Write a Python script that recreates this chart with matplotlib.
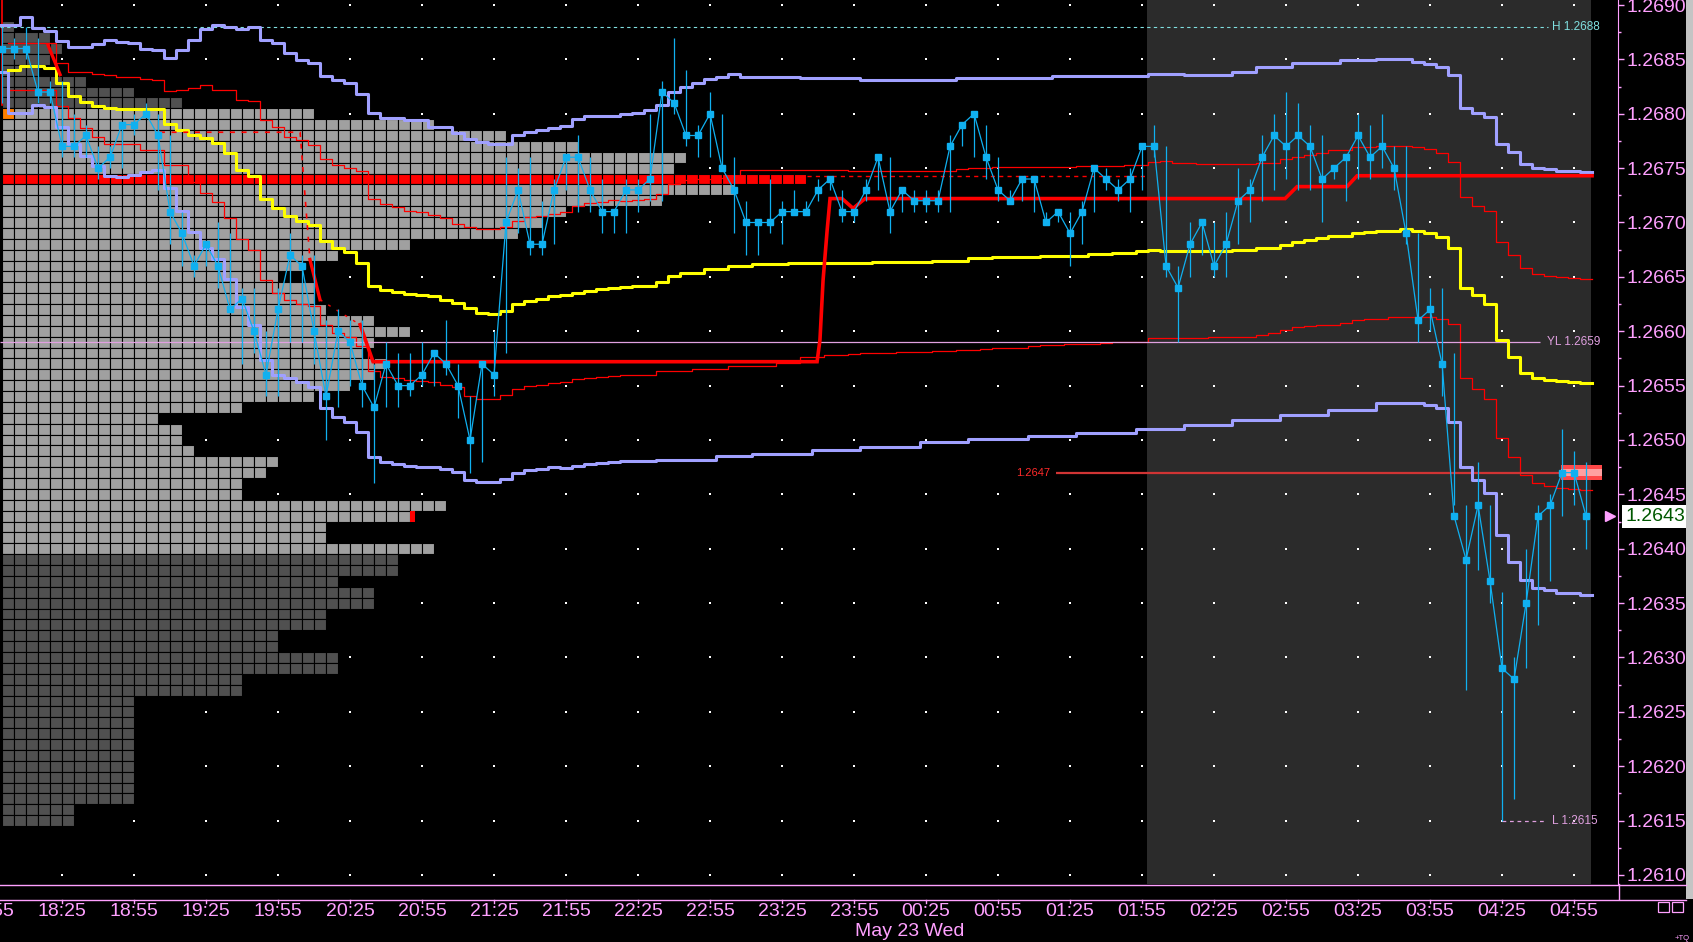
import numpy as np
import matplotlib
matplotlib.use("Agg")
import matplotlib.pyplot as plt
from matplotlib.patches import Rectangle
from matplotlib.lines import Line2D
from matplotlib.transforms import blended_transform_factory as blend

plt.rcParams['font.family'] = ['Liberation Sans', 'DejaVu Sans']

# 5 minute bars, 18:00 (May 22) .. 05:00 (May 23)
closes = [1.2686,1.2686,1.2686,1.2682,1.2682,1.2677,1.2677,1.2678,1.2675,1.2676,
          1.2679,1.2679,1.2680,1.2678,1.2671,1.2669,1.2666,1.2668,1.2666,1.2662,
          1.2663,1.2660,1.2656,1.2662,1.2667,1.2666,1.2660,1.2654,1.2660,1.2659,
          1.2655,1.2653,1.2657,1.2655,1.2655,1.2656,1.2658,1.2657,1.2655,1.2650,
          1.2657,1.2656,1.2670,1.2673,1.2668,1.2668,1.2673,1.2676,1.2676,1.2673,
          1.2671,1.2671,1.2673,1.2673,1.2674,1.2682,1.2681,1.2678,1.2678,1.2680,
          1.2675,1.2673,1.2670,1.2670,1.2670,1.2671,1.2671,1.2671,1.2673,1.2674,
          1.2671,1.2671,1.2673,1.2676,1.2671,1.2673,1.2672,1.2672,1.2672,1.2677,
          1.2679,1.2680,1.2676,1.2673,1.2672,1.2674,1.2674,1.2670,1.2671,1.2669,
          1.2671,1.2675,1.2674,1.2673,1.2674,1.2677,1.2677,1.2666,1.2664,1.2668,
          1.2670,1.2666,1.2668,1.2672,1.2673,1.2676,1.2678,1.2677,1.2678,1.2677,
          1.2674,1.2675,1.2676,1.2678,1.2676,1.2677,1.2675,1.2669,1.2661,1.2662,
          1.2657,1.2643,1.2639,1.2644,1.2637,1.2629,1.2628,1.2635,1.2643,1.2644,
          1.2647,1.2647,1.2643]
highs = [1.2688,1.2687,1.2688,1.2687,1.2683,1.2683,1.2680,1.2679,1.2677,1.2677,
         1.2679,1.2680,1.2681,1.2680,1.2678,1.2671,1.2667,1.2668,1.2670,1.2669,
         1.2664,1.2664,1.2660,1.2664,1.2669,1.2667,1.2667,1.2661,1.2662,1.2661,
         1.2661,1.2657,1.2659,1.2658,1.2658,1.2659,1.2658,1.2661,1.2657,1.2654,
         1.2657,1.2660,1.2676,1.2675,1.2676,1.2672,1.2674,1.2676,1.2678,1.2676,
         1.2674,1.2671,1.2674,1.2674,1.2680,1.2683,1.2687,1.2684,1.2679,1.2682,
         1.2680,1.2676,1.2672,1.2670,1.2674,1.2672,1.2673,1.2672,1.2674,1.2674,
         1.2673,1.2671,1.2674,1.2676,1.2676,1.2673,1.2673,1.2673,1.2673,1.2678,
         1.2679,1.2680,1.2679,1.2676,1.2673,1.2674,1.2674,1.2671,1.2671,1.2671,
         1.2672,1.2675,1.2675,1.2674,1.2675,1.2677,1.2679,1.2677,1.2666,1.2670,
         1.2670,1.2670,1.2671,1.2675,1.2674,1.2678,1.2680,1.2682,1.2681,1.2679,
         1.2678,1.2675,1.2676,1.2680,1.2679,1.2680,1.2677,1.2677,1.2669,1.2664,
         1.2664,1.2658,1.2644,1.2648,1.2644,1.2636,1.2630,1.2640,1.2644,1.2645,
         1.2651,1.2649,1.2648]
lows = [1.2681,1.2685,1.2685,1.2681,1.2681,1.2676,1.2676,1.2676,1.2674,1.2675,
        1.2675,1.2678,1.2680,1.2673,1.2668,1.2666,1.2665,1.2666,1.2664,1.2662,
        1.2657,1.2658,1.2654,1.2654,1.2659,1.2659,1.2657,1.2650,1.2653,1.2655,
        1.2653,1.2646,1.2653,1.2653,1.2654,1.2655,1.2655,1.2656,1.2652,1.2647,
        1.2648,1.2654,1.2658,1.2669,1.2667,1.2667,1.2668,1.2673,1.2671,1.2671,
        1.2669,1.2669,1.2669,1.2671,1.2672,1.2672,1.2680,1.2677,1.2676,1.2676,
        1.2675,1.2669,1.2667,1.2667,1.2669,1.2668,1.2671,1.2671,1.2672,1.2673,
        1.2670,1.2670,1.2672,1.2673,1.2669,1.2671,1.2671,1.2671,1.2671,1.2671,
        1.2677,1.2676,1.2674,1.2672,1.2672,1.2672,1.2671,1.2670,1.2670,1.2666,
        1.2668,1.2671,1.2673,1.2672,1.2671,1.2673,1.2676,1.2665,1.2659,1.2665,
        1.2667,1.2665,1.2665,1.2668,1.2670,1.2672,1.2673,1.2674,1.2673,1.2673,
        1.2670,1.2674,1.2672,1.2674,1.2674,1.2675,1.2673,1.2668,1.2659,1.2660,
        1.2654,1.2644,1.2627,1.2638,1.2635,1.2615,1.2617,1.2629,1.2633,1.2637,
        1.2643,1.2644,1.2640]

# step indicators: bar index where a new value starts, and the value
upper_bar = [0,2,3,4,5,6,8,9,10,11,12,13,14,15,16,17,18,19,20,21,22,23,24,25,26,27,28,29,30,31,
             32,34,36,38,39,40,41,43,44,45,46,47,48,49,52,53,54,55,56,57,58,59,60,61,62,67,72,80,88,96,
             99,103,105,108,112,115,118,119,120,121,122,123,124,125,126,127,128,129,130,132]
upper_band = [1.26882,1.26889,1.26879,1.26876,1.26867,1.26861,1.26864,1.26868,1.26866,1.26865,
              1.26860,1.26859,1.26851,1.26859,1.26868,1.26878,1.26882,1.26880,1.26878,1.26880,
              1.26868,1.26865,1.26856,1.26849,1.26847,1.26835,1.26831,1.26828,1.26818,1.26801,
              1.26796,1.26794,1.26788,1.26782,1.26777,1.26774,1.26772,1.26780,1.26783,1.26785,
              1.26787,1.26789,1.26795,1.26798,1.26800,1.26801,1.26803,1.26808,1.26820,1.26825,
              1.26828,1.26832,1.26834,1.26837,1.26834,1.26833,1.26831,1.26833,1.26835,1.26837,
              1.26836,1.26838,1.26843,1.26847,1.26849,1.26850,1.26848,1.26846,1.26843,1.26836,
              1.26805,1.26801,1.26797,1.26772,1.26765,1.26754,1.26750,1.26749,1.26747,1.26746]
lower_bar = [0,1,3,4,5,6,7,8,9,10,11,12,13,14,15,16,17,18,19,20,21,22,23,24,25,26,27,28,29,30,
             31,32,33,34,35,37,38,39,40,42,43,44,45,46,47,48,49,50,51,52,55,60,63,68,72,77,81,86,90,95,
             99,103,107,111,115,119,120,121,122,123,124,125,126,127,128,129,130,132]
lower_band = [1.26838,1.26801,1.26808,1.26806,1.26788,1.26772,1.26761,1.26752,1.26743,1.26742,
              1.26744,1.26746,1.26748,1.26732,1.26711,1.26691,1.26677,1.26666,1.26648,1.26622,
              1.26606,1.26574,1.26560,1.26557,1.26553,1.26549,1.26529,1.26521,1.26517,1.26507,
              1.26484,1.26480,1.26478,1.26476,1.26475,1.26473,1.26471,1.26463,1.26461,1.26464,
              1.26470,1.26472,1.26473,1.26475,1.26474,1.26476,1.26478,1.26479,1.26480,1.26481,
              1.26482,1.26485,1.26487,1.26491,1.26494,1.26498,1.26501,1.26504,1.26506,1.26510,
              1.26514,1.26518,1.26523,1.26528,1.26534,1.26532,1.26529,1.26517,1.26475,1.26463,
              1.26451,1.26413,1.26388,1.26371,1.26364,1.26362,1.26359,1.26357]
vwap_bar = [1,2,4,5,6,7,8,9,10,14,15,16,17,18,19,20,21,22,23,24,25,26,27,28,29,30,31,32,33,34,
            35,36,37,38,39,40,41,42,43,44,45,46,47,48,49,50,51,52,53,55,56,57,59,61,63,66,70,73,78,81,
            83,87,91,93,95,96,97,103,105,107,108,109,110,111,113,114,115,117,118,119,
            120,121,122,123,124,125,126,127,128,129,130,131,132]
vwap = [1.26840,1.26844,1.26842,1.26828,1.26816,1.26811,1.26807,1.26805,1.26804,1.26791,
        1.26785,1.26780,1.26778,1.26773,1.26764,1.26748,1.26743,1.26722,1.26713,1.26706,
        1.26701,1.26698,1.26683,1.26677,1.26673,1.26663,1.26642,1.26638,1.26636,1.26634,
        1.26633,1.26632,1.26629,1.26626,1.26621,1.26617,1.26616,1.26619,1.26625,1.26628,
        1.26630,1.26632,1.26633,1.26635,1.26637,1.26639,1.26640,1.26641,1.26642,1.26645,
        1.26651,1.26654,1.26657,1.26660,1.26662,1.26663,1.26663,1.26664,1.26665,1.26667,
        1.26668,1.26669,1.26671,1.26672,1.26674,1.26675,1.26674,1.26675,1.26677,1.26679,
        1.26682,1.26684,1.26686,1.26688,1.26690,1.26691,1.26692,1.26694,1.26692,1.26690,
        1.26687,1.26677,1.26640,1.26633,1.26625,1.26592,1.26576,1.26562,1.26557,1.26555,
        1.26554,1.26553,1.26552]
sd_up_bar = [1,5,6,8,9,10,12,13,14,15,16,17,18,20,21,22,23,24,25,26,27,28,29,30,31,32,33,34,35,36,
             37,38,39,40,42,43,44,45,46,47,48,49,50,51,52,53,54,55,56,57,58,60,61,62,71,80,81,83,90,94,
             96,97,98,100,105,107,108,109,110,111,113,115,118,119,120,121,122,123,124,125,
             126,127,128,129,130,131,132]
sd_up = [1.26865,1.26847,1.26838,1.26837,1.26836,1.26834,1.26832,1.26831,1.26821,1.26822,
         1.26824,1.26826,1.26822,1.26813,1.26812,1.26794,1.26788,1.26779,1.26776,1.26771,
         1.26758,1.26753,1.26750,1.26747,1.26722,1.26717,1.26714,1.26711,1.26710,1.26707,
         1.26704,1.26699,1.26696,1.26694,1.26696,1.26701,1.26705,1.26706,1.26708,1.26710,
         1.26715,1.26718,1.26719,1.26721,1.26720,1.26721,1.26722,1.26726,1.26735,1.26739,
         1.26740,1.26741,1.26743,1.26748,1.26747,1.26749,1.26750,1.26751,1.26752,1.26753,
         1.26756,1.26757,1.26755,1.26754,1.26755,1.26758,1.26760,1.26762,1.26764,1.26767,
         1.26769,1.26770,1.26769,1.26768,1.26764,1.26756,1.26723,1.26715,1.26711,1.26682,
         1.26670,1.26658,1.26653,1.26651,1.26650,1.26649,1.26648]
sd_dn_bar = [1,5,6,7,8,9,12,14,16,17,18,19,20,21,22,23,24,25,26,27,28,29,30,31,32,33,34,35,36,37,
             38,39,40,42,43,44,45,46,47,48,49,50,51,52,55,58,61,65,67,69,71,72,75,78,80,82,83,86,87,89,
             90,92,93,96,101,102,105,106,107,108,109,110,112,113,114,116,120,121,122,123,
             124,125,126,127,128,129,130,131,132]
sd_dn = [1.26822,1.26807,1.26796,1.26787,1.26779,1.26772,1.26767,1.26753,1.26737,1.26727,
         1.26719,1.26704,1.26685,1.26675,1.26647,1.26635,1.26629,1.26625,1.26623,1.26606,
         1.26598,1.26595,1.26586,1.26563,1.26558,1.26557,1.26555,1.26554,1.26553,1.26551,
         1.26549,1.26540,1.26538,1.26541,1.26547,1.26550,1.26551,1.26552,1.26553,1.26556,
         1.26557,1.26558,1.26559,1.26560,1.26563,1.26565,1.26568,1.26571,1.26576,1.26578,
         1.26579,1.26580,1.26581,1.26582,1.26583,1.26584,1.26585,1.26586,1.26587,1.26588,
         1.26588,1.26589,1.26590,1.26594,1.26595,1.26595,1.26597,1.26598,1.26601,1.26604,
         1.26605,1.26606,1.26608,1.26610,1.26611,1.26613,1.26611,1.26607,1.26557,1.26547,
         1.26538,1.26502,1.26484,1.26468,1.26460,1.26458,1.26456,1.26455,1.26454]

# developing POC (minutes since 18:00, price)
poc_t = [149.2,154.6,339.6,340.8,342.1,343.8,345.0,350.0,354.6,359.6,534.6,539.6,560.4,564.6,662.5]
poc_p = [1.26606,1.26572,1.26572,1.26592,1.26647,1.26693,1.26722,1.26722,1.26713,
         1.26722,1.26722,1.26733,1.26733,1.26743,1.26743]
poc_early_t = [19.2, 24.2]
poc_early_p = [1.26863, 1.26836]
poc_drop_t = [128.3, 132.5]
poc_drop_p = [1.26666, 1.26629]
poc_dash_t = [65.8, 124.2, 128.3]
poc_dash_p = [1.26783, 1.26783, 1.26666]
poc_gap_t = [132.5, 149.2]
poc_gap_p = [1.26629, 1.26606]
poc_prev_t = [335.4, 477.1]
poc_prev_p = [1.26743, 1.26743]

# market profile, 1 pip rows from 1.2688 down, cells of 5 minutes
profile_top = 1.2688
profile_counts = [1,4,5,4,3,7,11,15,26,36,42,48,57,56,67,61,55,47,45,43,34,28,25,23,26,26,27,31,
                  34,31,30,32,31,29,26,20,13,15,15,16,23,22,20,20,37,34,27,27,36,33,33,28,31,31,
                  27,27,23,23,28,28,20,20,11,11,11,11,11,11,11,11,11,11,6,6]
poc_level = 1.2674
va_high, va_low = 1.2680, 1.2640

session_high, session_low, y_low, level_1 = 1.2688, 1.2615, 1.2659, 1.2647
last_price = 1.2643

tick_minutes = [-5, 25, 55, 85, 115, 145, 175, 205, 235, 265, 295, 325, 355, 385, 415, 445,
                475, 505, 535, 565, 595, 625, 655]
tick_labels = ['17:55', '18:25', '18:55', '19:25', '19:55', '20:25', '20:55', '21:25', '21:55',
               '22:25', '22:55', '23:25', '23:55', '00:25', '00:55', '01:25', '01:55', '02:25',
               '02:55', '03:25', '03:55', '04:25', '04:55']

PINK = '#ffa0ff'
BLUE = '#10b0f0'
RED = '#ff0000'
LAV = '#a0a0ff'
YEL = '#ffff00'
FS = 14

W, H = 1693, 942
fig = plt.figure(figsize=(W / 100, H / 100), dpi=100, facecolor='black')
ax = fig.add_axes([0, 58 / H, 1618 / W, 884 / H])
ax.set_facecolor('black')
ax.set_xlim(-0.83, 673.3)
ax.set_ylim(1.260917, 1.269046)

n_bars = len(closes)
t = 5 * np.arange(n_bars)

# overnight session shading
ax.axvspan(477.1, 662.1, color='#2b2b2b', lw=0, zorder=0)

# dotted grid
gy = np.arange(1.2610, 1.26901, 0.0005)
GX, GY = np.meshgrid(tick_minutes, gy)
ax.scatter(GX.ravel(), GY.ravel(), s=0.9, c='white', marker='s', linewidths=0, zorder=1)

# market profile
levels = np.round(profile_top - 0.0001 * np.arange(len(profile_counts)), 4)
for lvl, n in zip(levels, profile_counts):
    if abs(lvl - poc_level) < 1e-6:
        fc = RED
    elif va_low - 1e-6 <= lvl <= va_high + 1e-6:
        fc = '#a0a0a0'
    else:
        fc = '#505050'
    ax.broken_barh([(5 * k, 5) for k in range(n)], (lvl - 0.00005, 0.0001),
                   facecolors=fc, edgecolors='black', linewidth=0.8, zorder=2)
ax.add_patch(Rectangle((0, 1.2680 - 0.00005), 5, 0.0001, fc='#ff8000', ec='black', lw=0.8, zorder=2))
n_last = profile_counts[int(round((profile_top - last_price) / 0.0001))]
ax.add_patch(Rectangle((5 * n_last, last_price - 0.00005), 2.2, 0.0001, fc=RED, ec='none', zorder=2))


def steps(bars, vals, **kw):
    xs = [5 * b - 2.5 for b in bars] + [5 * (n_bars - 1) + 2.5]
    ys = list(vals) + [vals[-1]]
    ax.step(xs, ys, where='post', **kw)


steps(sd_up_bar, sd_up, color=RED, lw=0.9, zorder=3)
steps(sd_dn_bar, sd_dn, color=RED, lw=0.9, zorder=3)
steps(upper_bar, upper_band, color=LAV, lw=2.2, zorder=4)
steps(lower_bar, lower_band, color=LAV, lw=2.2, zorder=4)
steps(vwap_bar, vwap, color=YEL, lw=2.2, zorder=4)

ax.plot([0, 0], [1.26905, 1.26808], color=RED, lw=1.2, zorder=3)
ax.plot(poc_early_t, poc_early_p, color=RED, lw=2.4, zorder=5)
ax.plot(poc_dash_t, poc_dash_p, color=RED, lw=1.2, ls=(0, (3, 4)), zorder=5)
ax.plot(poc_drop_t, poc_drop_p, color=RED, lw=2.4, zorder=5)
ax.plot(poc_gap_t, poc_gap_p, color=RED, lw=1.0, ls=(0, (2, 5)), zorder=5)
ax.plot(poc_prev_t, poc_prev_p, color=RED, lw=1.0, ls=(0, (3, 3)), zorder=3)
ax.plot(poc_t, poc_p, color=RED, lw=2.6, zorder=5, solid_joinstyle='miter')

# reference levels
ax.hlines(session_high, -0.83, 644.2, color='#80e0e0', lw=0.8, ls=(0, (3, 3)), zorder=3)
ax.text(645.8, session_high, 'H 1.2688', color='#80e0e0', fontsize=8.5, va='center', ha='left', zorder=9)
ax.hlines(y_low, -0.83, 640.8, color='#e0a0e0', lw=0.9, zorder=3)
ax.text(643.8, y_low, 'YL 1.2659', color='#e0a0e0', fontsize=8.5, va='center', ha='left', zorder=9)
ax.hlines(session_low, 625.0, 643.8, color='#e0a0e0', lw=0.9, ls=(0, (3, 3)), zorder=3)
ax.text(645.8, session_low, 'L 1:2615', color='#e0a0e0', fontsize=8.5, va='center', ha='left', zorder=9)
ax.hlines(level_1, 439.2, 666.2, color='#d03434', lw=1.6, zorder=3)
ax.text(436.7, level_1, '1.2647', color='#ff2a2a', fontsize=8, va='center', ha='right', zorder=9)
ax.add_patch(Rectangle((649.6, level_1 - 0.00007), 17.1, 0.00014, fc='#ff4848', ec='none',
                       zorder=5.5, clip_on=False))
ax.add_patch(Rectangle((649.6, level_1 - 0.00003), 17.1, 0.00006, fc='#ffa0a0', ec='none',
                       zorder=5.6, clip_on=False))

# price
ax.vlines(t, lows, highs, color=BLUE, lw=0.9, zorder=6)
ax.plot(t, closes, color=BLUE, lw=0.9, marker='s', ms=3.8, zorder=7)

# right price axis
ax.yaxis.tick_right()
ax.set_yticks(gy)
ax.set_yticklabels([f'{v:.4f}' for v in gy])
ax.set_yticks(np.arange(1.26125, 1.2690, 0.0005), minor=True)
ax.tick_params(axis='y', which='major', colors=PINK, labelsize=FS, length=4, width=1, pad=2)
ax.tick_params(axis='y', which='minor', colors=PINK, length=2, width=1)
ax.set_xticks([])
for s in ['top', 'left', 'bottom']:
    ax.spines[s].set_visible(False)
ax.spines['right'].set_color(PINK)

tr_r = blend(ax.transAxes, ax.transData)
ax.text(1.0045, last_price, f'{last_price:.4f}', transform=tr_r, ha='left', va='center',
        fontsize=FS, color='#005800', clip_on=False, zorder=10,
        bbox=dict(boxstyle='square,pad=0.15', fc='white', ec='none'))
ax.plot([0.9952], [last_price], transform=tr_r, marker='>', ms=7, color=PINK, clip_on=False, zorder=10)


def fig_line(xs, ys, **kw):
    fig.add_artist(Line2D([x / W for x in xs], [1 - y / H for y in ys], **kw))


fig_line([0, 1686], [884.5, 884.5], color=PINK, lw=1)
fig_line([0, 1686], [899.5, 899.5], color=PINK, lw=1)
fig_line([1618.5, 1618.5], [884, 899], color=PINK, lw=1)
fig.add_artist(Rectangle((1686 / W, 1 - 899 / H), 7 / W, 899 / H, transform=fig.transFigure,
                         fc='#c4c4c4', ec='none'))
for x in (1658, 1672):
    fig.add_artist(Rectangle((x / W, 1 - 912 / H), 11 / W, 10 / H, transform=fig.transFigure,
                             fc='none', ec=PINK, lw=0.9))
fig.text(1682 / W, 1 - 938 / H, '+TQ', color=PINK, fontsize=5.5, ha='center', va='center')

# time axis
tr = blend(ax.transData, fig.transFigure)
for m, lab in zip(tick_minutes, tick_labels):
    ax.text(m, 1 - 912 / H, lab, transform=tr, ha='center', va='center', color=PINK,
            fontsize=FS, clip_on=False)
    ax.add_line(Line2D([m, m], [1 - 899.5 / H, 1 - 903 / H], transform=tr, color=PINK, lw=1,
                       clip_on=False))
ax.text(378, 1 - 931 / H, 'May 23 Wed', transform=tr, ha='center', va='center', color=PINK,
        fontsize=FS, clip_on=False)

fig.savefig('out.png', dpi=100, facecolor='black')
